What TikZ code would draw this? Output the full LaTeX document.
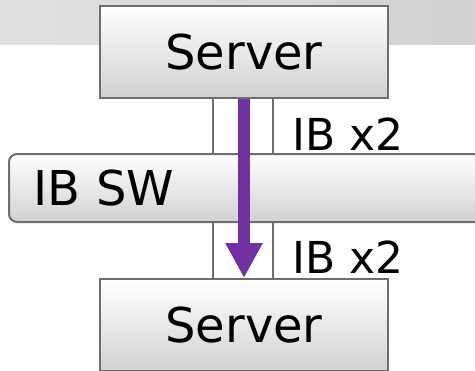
\documentclass[tikz,border=0pt]{standalone}
\usepackage{fontspec}
\setmainfont{DejaVu Sans}
\usetikzlibrary{arrows.meta,positioning,calc}
\definecolor{ibpurple}{HTML}{7030A0}
\definecolor{boxline}{HTML}{6E6E6E}

\begin{document}
\begin{tikzpicture}[
  x=0.5pt, y=-0.5pt,
  server/.style={rectangle, draw=boxline, line width=1pt,
                 top color=white, bottom color=black!18,
                 minimum width=144pt, minimum height=46pt,
                 font=\fontsize{24pt}{28pt}\selectfont, inner sep=0pt},
  switch/.style={rectangle, rounded corners=4pt, draw=boxline, line width=1pt,
                 top color=white, bottom color=black!18,
                 minimum width=238pt, minimum height=34pt, text width=214pt,
                 align=left, inner xsep=12pt,
                 font=\fontsize{24pt}{28pt}\selectfont},
  link/.style={draw=boxline, line width=0.8pt},
  flow/.style={-{Triangle[width=17.5pt,length=17.5pt]}, line width=6pt, draw=ibpurple},
  linklabel/.style={anchor=base west, inner sep=0pt, font=\fontsize{22pt}{26pt}\selectfont}
]
\useasboundingbox (0,0) rectangle (475,370);

% Header band
\fill[left color=black!12, right color=black!18] (0,0) rectangle (475,44);

% Servers
\node[server] (srvtop) at (244,52) {Server};
\node[server] (srvbot) at (244,325) {Server};

% Two IB links between the servers
\draw[link] ([xshift=-15.5pt]srvtop.south) -- ([xshift=-15.5pt]srvbot.north);
\draw[link] ([xshift=14.5pt]srvtop.south) -- ([xshift=14.5pt]srvbot.north);

% Switch across the links
\node[switch] (ibsw) at (247,188) {IB SW};

% Traffic direction
\draw[flow] (srvtop.south) -- (srvbot.north);

% Link counts
\node[linklabel] (lblup) at (292,150) {IB x2};
\node[linklabel] (lbldown) at (292,273) {IB x2};

\end{tikzpicture}
\end{document}
